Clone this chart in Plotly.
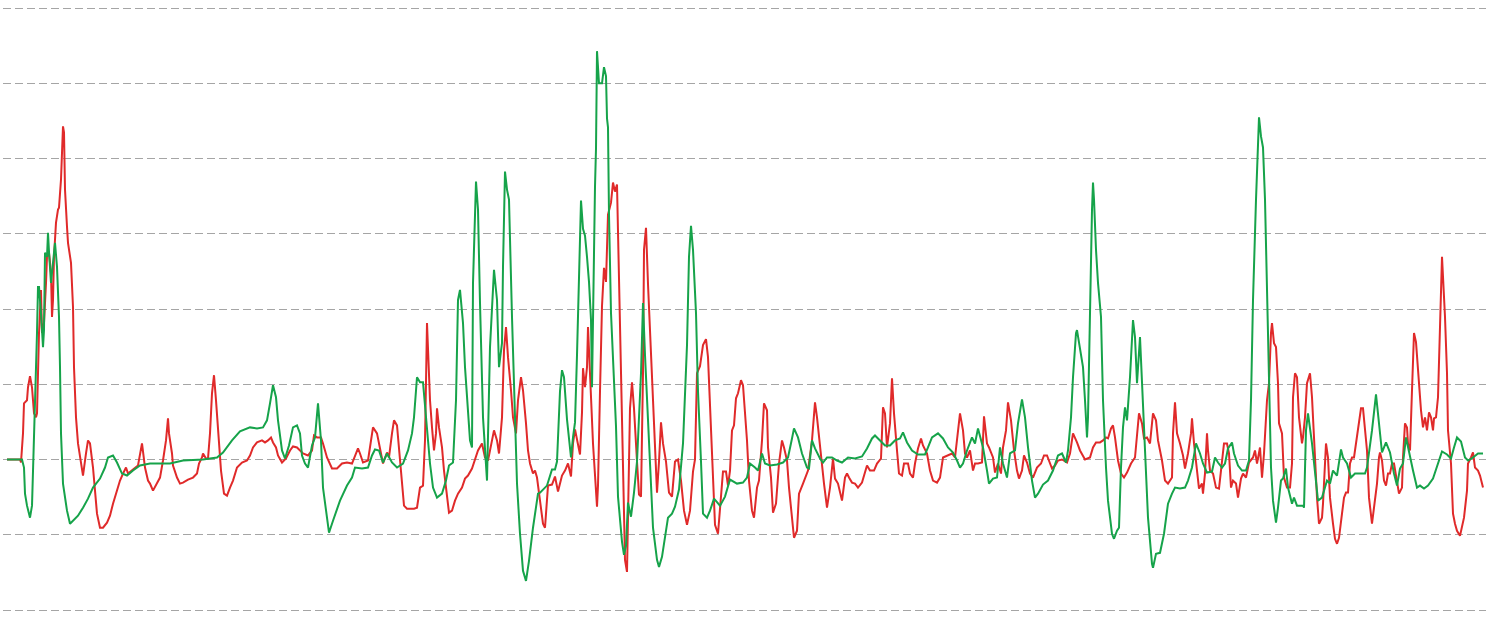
import plotly.graph_objects as go

# Time index and values (arbitrary units; gridlines every 3 units, baseline 0)
red_points = [
    (0, 0), (13, 0), (14, -0.12), (16, 1.04), (17, 2.24), (20, 2.36), (21, 2.88), (23, 3.32), (25, 2.88),
    (26, 2.36), (27, 1.84), (29, 1.68), (30, 1.84), (32, 5.04), (34, 6.76), (35, 5.04), (37, 5.44),
    (39, 7.04), (40, 8.08), (42, 8.24), (44, 7.44), (45, 5.68), (46, 6.36), (47, 8.08), (49, 9.44),
    (51, 9.96), (52, 10.04), (54, 11.16), (55, 12.76), (56, 13.28), (57, 13.04), (58, 10.76), (60, 9.28),
    (61, 8.64), (64, 7.84), (66, 6.08), (67, 3.68), (69, 1.68), (71, 0.64), (74, -0.04), (76, -0.64),
    (79, 0.24), (81, 0.76), (83, 0.64), (86, -0.32), (88, -1.24), (90, -2.16), (93, -2.72), (96, -2.72),
    (100, -2.52), (103, -2.24), (106, -1.76), (110, -1.24), (113, -0.84), (116, -0.56), (119, -0.32),
    (121, -0.56), (125, -0.44), (128, -0.36), (131, -0.24), (135, 0.64), (138, -0.32), (141, -0.84),
    (143, -0.96), (146, -1.24), (150, -0.96), (153, -0.72), (156, -0.04), (159, 0.76), (161, 1.64),
    (162, 1.04), (165, 0.24), (166, -0.24), (170, -0.72), (173, -0.96), (176, -0.92), (181, -0.80),
    (186, -0.72), (190, -0.56), (192, -0.16), (195, 0.08), (196, 0.24), (199, 0.04), (201, 0.04),
    (203, 1.04), (205, 2.64), (207, 3.36), (209, 2.36), (212, 0.88), (214, -0.44), (217, -1.36),
    (220, -1.44), (223, -1.12), (226, -0.84), (230, -0.32), (235, -0.12), (240, -0.04), (243, 0.16),
    (246, 0.48), (250, 0.68), (255, 0.76), (258, 0.68), (261, 0.76), (264, 0.88), (266, 0.68), (269, 0.48),
    (271, 0.16), (275, -0.12), (279, 0.04), (283, 0.36), (286, 0.52), (290, 0.48), (296, 0.24), (301, 0.16),
    (305, 0.36), (307, 0.96), (310, 0.88), (314, 0.88), (316, 0.64), (320, 0.08), (325, -0.36), (330, -0.36),
    (335, -0.16), (340, -0.12), (345, -0.16), (348, 0.16), (351, 0.44), (353, 0.24), (356, -0.12),
    (361, -0.04), (364, 0.76), (366, 1.28), (370, 1.04), (373, 0.36), (376, -0.16), (380, 0.28), (382, 0.08),
    (385, 1.04), (387, 1.56), (390, 1.36), (392, 0.36), (395, -0.96), (397, -1.84), (400, -1.96),
    (403, -1.96), (407, -1.96), (410, -1.92), (413, -1.12), (416, -1.04), (418, 0.76), (420, 5.44),
    (421, 4.08), (423, 2.36), (425, 1.28), (427, 0.36), (429, 1.04), (430, 2.04), (432, 1.28), (435, 0.48),
    (437, -0.44), (440, -1.52), (442, -2.12), (445, -2.04), (448, -1.64), (451, -1.36), (455, -1.12),
    (458, -0.76), (461, -0.64), (465, -0.36), (468, -0.04), (471, 0.36), (475, 0.64), (478, 0.08),
    (481, -0.04), (484, 0.64), (487, 1.16), (490, 0.76), (492, 0.24), (495, 1.68), (497, 4.36), (499, 5.28),
    (501, 4.08), (504, 2.76), (506, 1.68), (509, 1.04), (511, 2.36), (514, 3.28), (516, 2.76), (519, 1.44),
    (521, 0.36), (523, -0.16), (526, -0.56), (528, -0.44), (530, -0.72), (533, -1.64), (536, -2.56),
    (538, -2.72), (541, -1.04), (545, -1.00), (548, -0.68), (551, -1.28), (555, -0.64), (558, -0.44),
    (561, -0.16), (564, -0.68), (566, 0.64), (568, 1.20), (571, 0.64), (573, 0.20), (575, 1.88),
    (576, 3.64), (578, 2.88), (580, 3.68), (581, 5.28), (583, 3.44), (586, 0.64), (590, -1.88),
    (591, -1.04), (593, 2.72), (595, 6.12), (597, 7.64), (599, 7.08), (601, 9.76), (604, 10.24),
    (606, 11.04), (608, 10.68), (610, 10.96), (612, 6.96), (614, 2.72), (616, -1.48), (618, -4.00),
    (620, -4.48), (621, -1.72), (623, 2.04), (625, 3.08), (627, 2.04), (630, -0.08), (632, -1.40),
    (634, -1.48), (636, 3.44), (637, 8.36), (639, 9.24), (641, 7.00), (645, 3.44), (648, 0.64),
    (650, -1.32), (652, -0.08), (654, 1.48), (656, 0.64), (659, -0.08), (662, -1.32), (665, -1.48),
    (668, -0.08), (671, 0), (674, -0.84), (677, -2.04), (680, -2.60), (683, -2.04), (686, -0.48), (688, 0),
    (690, 3.44), (693, 3.72), (696, 4.56), (699, 4.80), (701, 4.08), (703, 2.04), (706, -1.20),
    (708, -2.60), (711, -2.96), (714, -1.48), (716, -0.48), (719, -0.48), (721, -1.04), (723, -0.44),
    (725, 1.16), (727, 1.36), (729, 2.44), (731, 2.64), (734, 3.16), (736, 2.96), (738, 1.96), (740, 0.76),
    (742, -0.84), (745, -2.04), (747, -2.32), (750, -1.12), (752, -0.84), (755, 0.76), (757, 2.24),
    (760, 1.96), (761, 0.48), (764, -0.72), (766, -2.12), (769, -1.76), (772, -0.16), (775, 0.76),
    (777, 0.48), (780, -0.04), (782, -1.12), (785, -2.44), (787, -3.12), (790, -2.84), (792, -1.36),
    (796, -0.96), (801, -0.44), (805, 0.76), (808, 2.28), (810, 1.68), (813, 0.48), (817, -0.96),
    (820, -1.92), (823, -1.12), (826, 0.04), (828, -0.76), (831, -0.96), (835, -1.64), (838, -0.72),
    (840, -0.56), (842, -0.72), (845, -0.92), (848, -0.96), (851, -1.12), (855, -0.92), (858, -0.56),
    (860, -0.24), (863, -0.44), (867, -0.44), (870, -0.16), (874, 0.04), (876, 2.08), (878, 1.84),
    (880, 0.48), (883, 1.44), (885, 3.24), (887, 1.84), (890, 0.36), (892, -0.56), (895, -0.64),
    (897, -0.16), (901, -0.16), (903, -0.56), (906, -0.72), (908, -0.16), (911, 0.44), (914, 0.84),
    (916, 0.56), (920, 0.24), (923, -0.44), (926, -0.84), (930, -0.92), (933, -0.72), (936, 0.08),
    (938, 0.12), (941, 0.16), (945, 0.24), (948, 0.08), (951, 1.16), (953, 1.84), (956, 1.16), (958, 0.24),
    (960, 0.08), (963, 0.36), (966, -0.44), (968, -0.16), (971, -0.16), (975, -0.12), (977, 1.72),
    (980, 0.64), (982, 0.48), (986, 0.08), (988, -0.52), (991, -0.16), (994, -0.56), (996, 0.48),
    (999, 1.16), (1001, 2.28), (1004, 1.56), (1007, 0.36), (1010, -0.44), (1012, -0.76), (1015, -0.44),
    (1017, 0.16), (1020, -0.12), (1023, -0.56), (1026, -0.72), (1030, -0.32), (1034, -0.16), (1037, 0.16),
    (1040, 0.16), (1043, -0.16), (1045, -0.36), (1048, -0.24), (1051, -0.04), (1055, 0), (1060, -0.12),
    (1063, 0.24), (1066, 1.04), (1070, 0.68), (1073, 0.36), (1078, 0), (1083, 0.08), (1086, 0.48),
    (1089, 0.68), (1093, 0.68), (1096, 0.76), (1099, 0.88), (1101, 0.84), (1104, 1.24), (1106, 1.36),
    (1108, 0.88), (1111, -0.04), (1114, -0.56), (1117, -0.72), (1120, -0.52), (1124, -0.16), (1128, 0.08),
    (1130, 1.16), (1132, 1.84), (1135, 1.44), (1137, 0.84), (1140, 0.88), (1143, 0.64), (1146, 1.84),
    (1149, 1.56), (1151, 0.76), (1155, -0.04), (1158, -0.84), (1161, -0.96), (1165, -0.72), (1166, 1.04),
    (1168, 2.28), (1170, 1.04), (1173, 0.64), (1176, 0.16), (1178, -0.36), (1181, 0.24), (1184, 1.04),
    (1185, 1.64), (1187, 0.64), (1190, -0.44), (1192, -1.16), (1195, -0.96), (1196, -1.36), (1198, -0.56),
    (1200, 1.04), (1201, 0.36), (1203, -0.44), (1206, -0.56), (1209, -1.12), (1212, -1.16), (1215, -0.04),
    (1217, 0.64), (1220, 0.64), (1222, 0.24), (1224, -1.12), (1226, -0.84), (1229, -0.96), (1231, -1.52),
    (1234, -0.76), (1236, -0.56), (1239, -0.72), (1242, -0.12), (1246, 0.08), (1248, 0.36), (1250, -0.16),
    (1253, 0.48), (1255, -0.72), (1257, 0.24), (1260, 2.36), (1262, 3.04), (1264, 5.04), (1265, 5.44),
    (1267, 4.64), (1269, 4.48), (1271, 3.04), (1272, 1.44), (1275, 1.04), (1277, -0.72), (1280, -1.12),
    (1283, -1.12), (1285, -0.16), (1286, 2.48), (1288, 3.44), (1290, 3.28), (1292, 1.68), (1295, 0.64),
    (1296, 0.88), (1298, 1.68), (1300, 3.04), (1303, 3.44), (1305, 2.48), (1307, 0.64), (1310, -1.52),
    (1312, -2.56), (1315, -2.32), (1316, -1.76), (1318, 0.08), (1319, 0.64), (1321, 0.08), (1323, -1.52),
    (1326, -2.56), (1328, -3.16), (1330, -3.36), (1332, -3.12), (1335, -2.16), (1337, -1.52), (1339, -1.32),
    (1341, -1.32), (1343, -0.16), (1345, 0.08), (1347, 0.08), (1350, 0.96), (1352, 1.56), (1354, 2.04),
    (1356, 2.04), (1357, 1.56), (1360, 0.36), (1362, -1.52), (1365, -2.56), (1367, -1.92), (1370, -0.96),
    (1372, 0.08), (1373, 0.28), (1375, -0.04), (1377, -0.84), (1379, -1.04), (1381, -0.56), (1383, -0.56),
    (1385, -0.16), (1387, -0.16), (1390, -0.96), (1392, -1.36), (1395, -1.12), (1396, 0.08), (1398, 1.44),
    (1400, 1.28), (1401, 0.64), (1403, 0.36), (1405, 2.76), (1407, 5.04), (1409, 4.68), (1411, 3.56),
    (1414, 1.96), (1416, 1.28), (1418, 1.68), (1420, 1.16), (1422, 1.88), (1424, 1.68), (1426, 1.16),
    (1427, 1.64), (1429, 1.68), (1431, 2.48), (1433, 5.16), (1434, 7.44), (1435, 8.08), (1436, 7.28),
    (1438, 5.68), (1440, 3.44), (1441, 1.16), (1444, -0.16), (1446, -2.16), (1448, -2.56), (1450, -2.84),
    (1453, -3.04), (1455, -2.72), (1457, -2.32), (1460, -1.24), (1461, -0.16), (1464, 0.08), (1466, 0.28),
    (1468, -0.32), (1471, -0.44), (1473, -0.64), (1476, -1.12),
]

green_points = [
    (0, 0), (15, 0), (17, -0.32), (18, -1.36), (20, -1.84), (23, -2.32), (25, -1.84), (26, -0.52), (28, 1.56),
    (29, 3.04), (30, 5.04), (31, 6.88), (32, 6.88), (34, 5.84), (36, 4.48), (37, 5.16), (38, 8.24), (40, 8.08),
    (41, 9.04), (42, 8.28), (44, 7.04), (45, 7.44), (47, 8.08), (48, 8.64), (50, 7.68), (52, 5.68), (53, 3.68),
    (54, 1.04), (56, -0.96), (60, -2.04), (63, -2.56), (66, -2.44), (71, -2.24), (76, -1.92), (81, -1.56),
    (86, -1.12), (93, -0.76), (98, -0.32), (101, 0.08), (106, 0.16), (110, -0.12), (115, -0.56), (120, -0.64),
    (126, -0.44), (133, -0.24), (143, -0.16), (163, -0.16), (176, -0.04), (196, 0), (210, 0.08), (216, 0.28),
    (225, 0.76), (233, 1.12), (243, 1.28), (250, 1.24), (256, 1.28), (260, 1.56), (263, 2.24), (266, 2.96),
    (269, 2.48), (271, 1.56), (275, 0.36), (278, 0.04), (282, 0.56), (286, 1.28), (290, 1.36), (293, 1.04),
    (295, 0.16), (298, -0.16), (301, -0.32), (305, 0.56), (308, 0.88), (311, 2.24), (314, 0.76), (316, -1.12),
    (320, -2.32), (322, -2.92), (326, -2.44), (333, -1.64), (340, -1.04), (345, -0.72), (348, -0.32),
    (355, -0.36), (361, -0.32), (365, 0.16), (368, 0.40), (372, 0.36), (376, -0.12), (380, 0.24), (385, -0.12),
    (390, -0.32), (396, -0.16), (401, 0.36), (405, 1.04), (407, 1.68), (410, 3.28), (413, 3.08), (416, 3.08),
    (420, 1.28), (423, -0.16), (426, -1.12), (430, -1.52), (435, -1.36), (439, -0.84), (442, -0.24),
    (446, -0.12), (449, 2.36), (451, 6.36), (453, 6.76), (456, 5.44), (458, 3.68), (461, 1.68), (463, 0.76),
    (465, 0.48), (466, 7.04), (469, 11.08), (471, 9.96), (473, 6.24), (476, 1.68), (480, -0.84), (483, 4.48),
    (487, 7.56), (490, 6.36), (492, 3.68), (495, 4.64), (496, 7.68), (498, 11.48), (500, 10.76), (502, 10.36),
    (505, 5.68), (508, 1.68), (510, -0.96), (513, -2.96), (516, -4.44), (519, -4.84), (522, -4.04),
    (526, -2.72), (531, -1.36), (533, -1.32), (540, -1.04), (545, -0.40), (548, -0.40), (550, -0.08),
    (553, 2.72), (555, 3.56), (557, 3.28), (560, 1.60), (562, 0.88), (564, 0.08), (566, 0.88), (568, 1.48),
    (570, 4.16), (572, 6.96), (574, 10.32), (576, 9.20), (578, 8.92), (580, 8.08), (582, 7.08), (584, 5.56),
    (585, 2.88), (588, 10.88), (589, 12.40), (590, 16.28), (592, 15.00), (595, 15.00), (597, 15.64),
    (599, 15.28), (600, 13.60), (601, 13.24), (602, 9.76), (604, 5.84), (606, 4.16), (609, 1.32), (611, -1.48),
    (615, -3.28), (617, -3.80), (619, -3.44), (621, -1.72), (624, -2.28), (627, -1.32), (630, -0.08),
    (634, 3.44), (636, 6.24), (638, 4.16), (641, 1.32), (644, -1.04), (646, -2.72), (650, -4.00), (652, -4.28),
    (655, -3.88), (658, -3.16), (661, -2.32), (665, -2.16), (668, -1.88), (672, -1.20), (676, 0.64),
    (680, 4.56), (682, 8.08), (684, 9.32), (686, 8.36), (689, 5.84), (691, 2.72), (694, -0.08), (696, -2.16),
    (700, -2.32), (703, -2.04), (707, -1.56), (713, -1.84), (718, -1.48), (723, -0.80), (730, -0.96),
    (736, -0.92), (740, -0.72), (743, -0.16), (748, -0.32), (751, -0.44), (755, 0.24), (758, -0.16),
    (763, -0.24), (770, -0.20), (776, -0.12), (781, 0.08), (785, 0.84), (787, 1.24), (791, 0.88), (795, 0.24),
    (800, -0.32), (802, -0.36), (805, 0.76), (808, 0.44), (813, 0.04), (816, -0.12), (820, 0.08), (825, 0.08),
    (830, -0.04), (835, -0.12), (841, 0.08), (848, 0.04), (855, 0.12), (860, 0.44), (865, 0.84), (868, 0.96),
    (873, 0.76), (878, 0.56), (883, 0.56), (888, 0.76), (893, 0.84), (896, 1.08), (900, 0.68), (905, 0.36),
    (911, 0.20), (918, 0.20), (921, 0.48), (925, 0.88), (931, 1.04), (936, 0.84), (941, 0.48), (946, 0.28),
    (950, -0.04), (953, -0.32), (956, -0.16), (960, 0.36), (965, 0.88), (968, 0.64), (971, 1.24), (976, 0.48),
    (980, -0.44), (982, -0.96), (986, -0.76), (990, -0.72), (993, 0.48), (996, -0.16), (1000, -0.72),
    (1003, 0.24), (1008, 0.36), (1011, 1.44), (1015, 2.40), (1018, 1.68), (1021, 0.48), (1025, -0.84),
    (1028, -1.52), (1031, -1.36), (1036, -1.00), (1041, -0.84), (1046, -0.44), (1051, 0.16), (1055, 0.24),
    (1059, -0.12), (1061, 0.36), (1064, 1.68), (1066, 3.28), (1069, 5.04), (1070, 5.16), (1073, 4.36),
    (1076, 3.68), (1078, 2.36), (1080, 0.88), (1081, 1.68), (1083, 6.36), (1085, 9.96), (1086, 11.04),
    (1087, 10.36), (1089, 8.36), (1091, 7.04), (1094, 5.68), (1096, 2.36), (1099, -0.32), (1101, -1.64),
    (1105, -2.96), (1107, -3.16), (1110, -2.84), (1112, -2.72), (1114, -0.32), (1116, 1.28), (1118, 2.08),
    (1120, 1.56), (1123, 3.28), (1126, 5.56), (1128, 4.88), (1130, 3.04), (1133, 4.88), (1135, 3.04),
    (1138, 0.36), (1141, -2.32), (1145, -4.16), (1146, -4.32), (1149, -3.76), (1153, -3.72), (1157, -2.96),
    (1161, -1.76), (1165, -1.36), (1168, -1.12), (1173, -1.16), (1178, -1.12), (1181, -0.84), (1185, -0.32),
    (1189, 0.64), (1193, 0.24), (1196, -0.16), (1200, -0.52), (1205, -0.48), (1208, 0.08), (1211, -0.12),
    (1215, -0.32), (1218, -0.16), (1221, 0.44), (1225, 0.68), (1227, 0.24), (1231, -0.24), (1235, -0.44),
    (1239, -0.44), (1242, -0.04), (1244, 2.36), (1246, 6.36), (1249, 10.36), (1251, 12.36), (1252, 13.64),
    (1254, 12.88), (1256, 12.44), (1258, 10.36), (1260, 6.36), (1262, 2.36), (1264, -0.32), (1266, -1.64),
    (1269, -2.52), (1271, -1.92), (1274, -0.84), (1276, -0.76), (1279, -0.36), (1281, -1.12), (1285, -1.76),
    (1287, -1.52), (1290, -1.84), (1296, -1.84), (1297, -1.92), (1299, 1.16), (1301, 1.84), (1305, 0.64),
    (1308, -0.44), (1311, -1.64), (1315, -1.52), (1320, -0.84), (1323, -0.96), (1326, -0.44), (1330, -0.64),
    (1334, 0.40), (1336, 0.08), (1340, -0.16), (1344, -0.72), (1348, -0.56), (1353, -0.56), (1358, -0.56),
    (1360, -0.32), (1365, 1.16), (1369, 2.60), (1372, 1.56), (1375, 0.28), (1379, 0.68), (1383, 0.28),
    (1387, -0.56), (1390, -1.04), (1393, -0.36), (1396, -0.16), (1399, 0.88), (1403, 0.08), (1406, -0.44),
    (1410, -1.12), (1413, -1.04), (1417, -1.16), (1421, -1.04), (1426, -0.76), (1431, -0.16), (1435, 0.32),
    (1440, 0.20), (1444, 0.04), (1447, 0.48), (1450, 0.88), (1454, 0.72), (1458, 0.08), (1461, -0.04),
    (1466, 0.08), (1471, 0.24), (1476, 0.24),
]

grid_values = [-6, -3, 0, 3, 6, 9, 12, 15, 18]

RED = "#E02A2A"
GREEN = "#16A34A"

fig = go.Figure()
fig.add_trace(go.Scatter(
    x=[p[0] for p in red_points], y=[p[1] for p in red_points],
    mode="lines", line=dict(color=RED, width=2), name="red", hoverinfo="skip",
))
fig.add_trace(go.Scatter(
    x=[p[0] for p in green_points], y=[p[1] for p in green_points],
    mode="lines", line=dict(color=GREEN, width=2), name="green", hoverinfo="skip",
))

px_per_unit = 602 / 24.0
fig.update_layout(
    width=1490, height=633,
    margin=dict(l=3, r=4, t=0, b=16),
    paper_bgcolor="white", plot_bgcolor="white",
    showlegend=False,
    xaxis=dict(range=[-4, 1479], showgrid=False, zeroline=False, showticklabels=False,
               showline=False, ticks=""),
    yaxis=dict(range=[-6 - 7 / px_per_unit, 18 + 8 / px_per_unit],
               tickmode="array", tickvals=grid_values, showticklabels=False,
               showgrid=True, gridcolor="#A5A5A5", gridwidth=1, griddash="8px,4px",
               zeroline=False, showline=False, ticks=""),
)

fig.write_html(
    "out.html",
    config={"displayModeBar": False},
    post_script="document.body.style.margin='0';document.body.style.overflow='hidden';",
)
